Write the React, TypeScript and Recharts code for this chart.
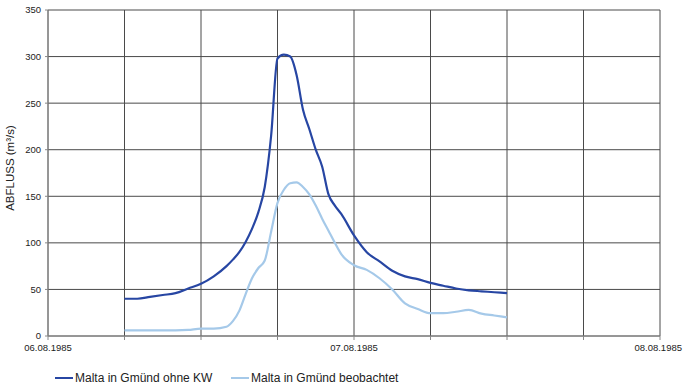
import { LineChart, Line, XAxis, YAxis, CartesianGrid, Legend } from 'recharts';

// hours after 06.08.1985 00:00
const hours = [
  6, 7, 8, 9, 10, 11, 12, 13, 14, 14.5, 15, 15.5, 16, 16.5, 17, 17.5, 18, 18.5, 19, 19.5,
  20, 20.5, 21, 21.5, 22, 22.5, 23, 24, 25, 26, 27, 28, 29, 30, 31, 32, 33, 34, 35, 36,
];
const ohneKW = [
  40, 40, 42, 44, 46, 51, 56, 64, 75, 82, 90, 101, 115, 133, 160, 215, 298, 302, 300, 280,
  243, 222, 200, 182, 152, 140, 131, 108, 90, 80, 70, 64, 61, 57, 54, 51, 49, 48, 47, 46,
];
const beobachtet = [
  6, 6, 6, 6, 6, 6.5, 8, 8, 10, 16, 27, 45, 62, 73, 81, 112, 143, 157, 164, 165,
  160, 152, 140, 126, 113, 100, 88, 76, 71, 62, 50, 35, 29, 24.5, 24.5, 26, 28, 24, 22, 20,
];
const xTicks = [0, 6, 12, 18, 24, 30, 36, 42, 48];
const dateLabels: Record<number, string> = { 0: '06.08.1985', 24: '07.08.1985', 48: '08.08.1985' };
const yTicks = [0, 50, 100, 150, 200, 250, 300, 350];

const seriesNames = ['Malta in Gmünd ohne KW', 'Malta in Gmünd beobachtet'];
const DARK = '#2746a3';
const LIGHT = '#a5c9e9';

const data = hours.map((h, i) => ({ h, ohne: ohneKW[i], beob: beobachtet[i] }));

const font = '"Liberation Sans", Arial, sans-serif';

// keeps the last date label inside the picture
function DateTick(props: any) {
  const { x, y, payload } = props;
  const label = dateLabels[payload.value] ?? '';
  const last = payload.value === 48;
  return (
    <text
      x={last ? 682 : x}
      y={y + 9}
      textAnchor={last ? 'end' : 'middle'}
      fontSize={9.5}
      fontFamily={font}
      fill="#222"
    >
      {label}
    </text>
  );
}

export default function App() {
  return (
    <div style={{ position: 'absolute', left: 0, top: 0, width: 683, height: 389, background: '#fff' }}>
      <LineChart width={683} height={389} data={data} margin={{ top: 10, right: 23, left: 0, bottom: 0 }}>
        <CartesianGrid stroke="#4a4a4a" strokeWidth={1} />
        <XAxis
          dataKey="h"
          type="number"
          domain={[0, 48]}
          ticks={xTicks}
          height={22}
          tickSize={4}
          stroke="#888"
          tick={<DateTick />}
        />
        <YAxis
          type="number"
          domain={[0, 350]}
          ticks={yTicks}
          width={48}
          tickSize={3}
          tickMargin={4}
          stroke="#888"
          tick={{ fill: '#222', fontSize: 9.5, fontFamily: font }}
          label={{
            content: () => (
              <text
                x={10}
                y={168}
                transform="rotate(-90 10 168)"
                textAnchor="middle"
                dominantBaseline="central"
                fontSize={11.5}
                fontFamily={font}
                fill="#222"
              >
                ABFLUSS (m³/s)
              </text>
            ),
          }}
        />
        <Line
          dataKey="ohne"
          name={seriesNames[0]}
          type="monotone"
          stroke={DARK}
          strokeWidth={2.2}
          dot={false}
          isAnimationActive={false}
        />
        <Line
          dataKey="beob"
          name={seriesNames[1]}
          type="monotone"
          stroke={LIGHT}
          strokeWidth={2.2}
          dot={false}
          isAnimationActive={false}
        />
        <Legend
          verticalAlign="bottom"
          height={31}
          content={() => (
            <div style={{ position: 'relative', height: 31, fontFamily: font, fontSize: 12, color: '#222' }}>
              {[DARK, LIGHT].map((c, i) => (
                <div
                  key={i}
                  style={{ position: 'absolute', left: i === 0 ? 55 : 231, top: 13, display: 'flex', alignItems: 'center' }}
                >
                  <span style={{ display: 'inline-block', width: 18, height: 2.5, background: c, marginRight: 2 }} />
                  {seriesNames[i]}
                </div>
              ))}
            </div>
          )}
        />
      </LineChart>
    </div>
  );
}
